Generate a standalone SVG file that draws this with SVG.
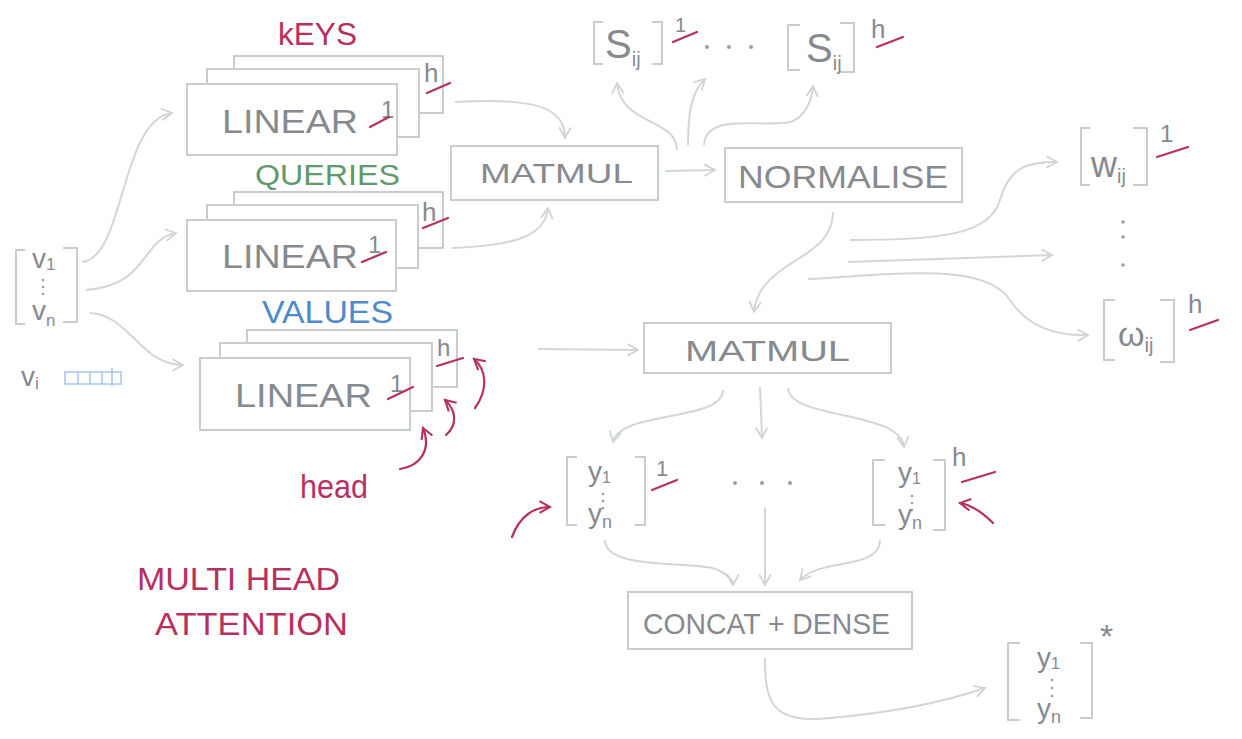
<svg xmlns="http://www.w3.org/2000/svg" width="1242" height="739" viewBox="0 0 1242 739">
<style>
.box{fill:#fff;stroke:#c9cdd0;stroke-width:2}
.br{fill:none;stroke:#c9cdd0;stroke-width:2}
.t{fill:#868a8f;font-family:"Liberation Sans",Arial,sans-serif}
.r{fill:#b8305e;font-family:"Liberation Sans",Arial,sans-serif}
.ul{fill:none;stroke:#b8305e;stroke-width:2.2;stroke-linecap:round}
.c{fill:none;stroke:#d3d6d8;stroke-width:2;marker-end:url(#arr)}
.cr{fill:none;stroke:#b8305e;stroke-width:2.2;stroke-linecap:round;marker-end:url(#arrR)}
.dot{fill:#9a9ea2}
</style>
<defs>
<marker id="arr" viewBox="0 0 12 12" refX="10" refY="6" markerWidth="14" markerHeight="14" markerUnits="userSpaceOnUse" orient="auto">
<path d="M1,1 L10,6 L1,11" fill="none" stroke="#d0d3d6" stroke-width="1.5"/>
</marker>
<marker id="arrR" viewBox="0 0 12 12" refX="10" refY="6" markerWidth="14" markerHeight="14" markerUnits="userSpaceOnUse" orient="auto">
<path d="M1,1 L10,6 L1,11" fill="none" stroke="#b8305e" stroke-width="1.8"/>
</marker>
</defs>
<rect width="1242" height="739" fill="#fff"/>

<g id="connectors">
<path class="c" d="M82,262 C125,258 120,120 172,113"/>
<path class="c" d="M86,290 C150,285 140,240 176,233"/>
<path class="c" d="M90,313 C130,315 140,365 183,365"/>
<path class="c" d="M455,102 C530,98 565,105 565,138"/>
<path class="c" d="M452,248 C520,245 545,235 548,208"/>
<path class="c" d="M665,171 L715,170"/>
<path class="c" d="M677,150 C677,118 620,125 617,83"/>
<path class="c" d="M688,145 C688,110 692,92 705,79"/>
<path class="c" d="M704,145 C706,112 760,128 790,122 C805,118 812,100 813,86"/>
<path class="c" d="M850,240 C940,240 990,235 1000,200 C1010,165 1030,162 1057,162"/>
<path class="c" d="M848,262 L1052,255"/>
<path class="c" d="M808,279 C900,274 985,262 1010,300 C1030,330 1060,336 1088,335"/>
<path class="c" d="M833,212 C833,262 760,258 754,312"/>
<path class="c" d="M538,349 L638,350"/>
<path class="c" d="M723,390 C723,422 620,410 613,442"/>
<path class="c" d="M760,387 L762,438"/>
<path class="c" d="M788,388 C790,420 900,410 904,447"/>
<path class="c" d="M605,540 C605,572 700,560 718,570 C730,576 733,582 733,585"/>
<path class="c" d="M765,508 L765,585"/>
<path class="c" d="M880,540 C880,570 820,558 800,580"/>
<path class="c" d="M765,658 C765,700 770,725 830,718 C900,712 950,700 985,688"/>
</g>

<g id="input-vectors">
<path class="br" d="M25,250 H16 V324 H25"/>
<path class="br" d="M63,248 H77 V322 H63"/>
<text class="t" x="32" y="268" font-size="28">v<tspan font-size="17" dy="2">1</tspan></text>
<circle class="dot" cx="43" cy="280" r="1.3"/><circle class="dot" cx="43" cy="287" r="1.3"/><circle class="dot" cx="43" cy="294" r="1.3"/>
<text class="t" x="32" y="320" font-size="28">v<tspan font-size="17" dy="6">n</tspan></text>
<text class="t" x="21" y="386" font-size="28">v<tspan font-size="17" dy="3">i</tspan></text>
<g fill="none" stroke="#a8c4e8" stroke-width="1.5">
<rect x="65" y="372" width="56" height="12"/>
<path d="M78,372 V384 M90,372 V384 M102,372 V384 M112,368 V386"/>
</g>
</g>

<g id="keys">
<text class="r" x="278" y="45" font-size="31" textLength="79" lengthAdjust="spacingAndGlyphs">kEYS</text>
<rect class="box" x="234" y="56" width="209" height="57"/>
<rect class="box" x="207" y="69" width="212" height="68"/>
<rect class="box" x="187" y="84" width="210" height="71"/>
<text class="t" x="222" y="133" font-size="34" textLength="136" lengthAdjust="spacingAndGlyphs">LINEAR</text>
<text class="t" x="381" y="118" font-size="24">1</text>
<path class="ul" d="M370,127 L389,117"/>
<text class="t" x="424" y="82" font-size="26">h</text>
<path class="ul" d="M427,93 L450,83"/>
</g>

<g id="queries">
<text class="r" x="255" y="185" font-size="30" textLength="145" lengthAdjust="spacingAndGlyphs" style="fill:#5e9a6c">QUERIES</text>
<rect class="box" x="234" y="192" width="209" height="56"/>
<rect class="box" x="207" y="205" width="211" height="63"/>
<rect class="box" x="187" y="220" width="209" height="71"/>
<text class="t" x="222" y="268" font-size="34" textLength="136" lengthAdjust="spacingAndGlyphs">LINEAR</text>
<text class="t" x="368" y="253" font-size="24">1</text>
<path class="ul" d="M362,262 L386,252"/>
<text class="t" x="422" y="221" font-size="26">h</text>
<path class="ul" d="M423,228 L448,218"/>
</g>

<g id="values">
<text class="r" x="262" y="323" font-size="31" textLength="131" lengthAdjust="spacingAndGlyphs" style="fill:#4d8acb">VALUES</text>
<rect class="box" x="247" y="330" width="210" height="57"/>
<rect class="box" x="220" y="343" width="212" height="68"/>
<rect class="box" x="200" y="358" width="210" height="72"/>
<text class="t" x="235" y="407" font-size="34" textLength="137" lengthAdjust="spacingAndGlyphs">LINEAR</text>
<text class="t" x="390" y="392" font-size="24">1</text>
<path class="ul" d="M388,399 L413,387"/>
<text class="t" x="437" y="356" font-size="24">h</text>
<path class="ul" d="M437,366 L463,358"/>
</g>

<g id="head-label">
<text class="r" x="300" y="498" font-size="33" textLength="68" lengthAdjust="spacingAndGlyphs">head</text>
<path class="cr" d="M400,469 C420,466 432,450 423,428"/>
<path class="cr" d="M446,435 C458,425 456,410 445,400"/>
<path class="cr" d="M475,408 C488,390 487,370 474,359"/>
</g>

<g id="matmul-1">
<rect class="box" x="451" y="146" width="207" height="54"/>
<text class="t" x="480" y="183" font-size="28" textLength="153" lengthAdjust="spacingAndGlyphs">MATMUL</text>
</g>

<g id="normalise">
<rect class="box" x="725" y="148" width="237" height="54"/>
<text class="t" x="738" y="188" font-size="31" textLength="210" lengthAdjust="spacingAndGlyphs">NORMALISE</text>
</g>

<g id="scores">
<path class="br" d="M603,22 H594 V64 H603"/>
<path class="br" d="M652,22 H662 V64 H652"/>
<text class="t" x="605" y="58" font-size="40">S<tspan font-size="20" dy="8">ij</tspan></text>
<text class="t" x="675" y="32" font-size="20">1</text>
<path class="ul" d="M673,42 L697,32"/>
<circle class="dot" cx="707" cy="47" r="2"/><circle class="dot" cx="729" cy="47" r="2"/><circle class="dot" cx="751" cy="47" r="2"/>
<path class="br" d="M800,25 H788 V70 H800"/>
<path class="br" d="M840,23 H854 V72 H840"/>
<text class="t" x="806" y="62" font-size="40">S<tspan font-size="20" dy="8">ij</tspan></text>
<text class="t" x="871" y="38" font-size="26">h</text>
<path class="ul" d="M877,47 L903,37"/>
</g>

<g id="weights">
<path class="br" d="M1090,128 H1081 V185 H1090"/>
<path class="br" d="M1133,128 H1147 V185 H1133"/>
<text class="t" x="1091" y="177" font-size="36">w<tspan font-size="20" dy="6">ij</tspan></text>
<text class="t" x="1160" y="142" font-size="24">1</text>
<path class="ul" d="M1157,157 L1188,147"/>
<circle class="dot" cx="1123" cy="222" r="1.8"/><circle class="dot" cx="1123" cy="237" r="1.8"/><circle class="dot" cx="1123" cy="265" r="1.8"/>
<path class="br" d="M1115,300 H1104 V360 H1115"/>
<path class="br" d="M1160,300 H1174 V362 H1160"/>
<text class="t" x="1118" y="346" font-size="34">ω<tspan font-size="20" dy="6">ij</tspan></text>
<text class="t" x="1188" y="313" font-size="26">h</text>
<path class="ul" d="M1190,330 L1218,320"/>
</g>

<g id="matmul-2">
<rect class="box" x="644" y="323" width="247" height="50"/>
<text class="t" x="685" y="361" font-size="29" textLength="165" lengthAdjust="spacingAndGlyphs">MATMUL</text>
</g>

<g id="outputs-heads">
<path class="br" d="M577,457 H567 V525 H577"/>
<path class="br" d="M635,457 H645 V525 H635"/>
<text class="t" x="588" y="481" font-size="28">y<tspan font-size="16" dy="2">1</tspan></text>
<circle class="dot" cx="603" cy="494" r="1.3"/><circle class="dot" cx="603" cy="501" r="1.3"/><circle class="dot" cx="603" cy="508" r="1.3"/>
<text class="t" x="588" y="523" font-size="28">y<tspan font-size="18" dy="5">n</tspan></text>
<text class="t" x="656" y="476" font-size="22">1</text>
<path class="ul" d="M652,490 L677,480"/>
<circle class="dot" cx="735" cy="483" r="2"/><circle class="dot" cx="762" cy="483" r="2"/><circle class="dot" cx="790" cy="483" r="2"/>
<path class="br" d="M885,460 H873 V525 H885"/>
<path class="br" d="M933,460 H945 V530 H933"/>
<text class="t" x="898" y="482" font-size="28">y<tspan font-size="16" dy="2">1</tspan></text>
<circle class="dot" cx="912" cy="496" r="1.3"/><circle class="dot" cx="912" cy="503" r="1.3"/><circle class="dot" cx="912" cy="510" r="1.3"/>
<text class="t" x="898" y="524" font-size="28">y<tspan font-size="18" dy="5">n</tspan></text>
<text class="t" x="952" y="466" font-size="26">h</text>
<path class="ul" d="M962,482 L995,472"/>
<path class="cr" d="M512,537 C520,515 535,507 550,507"/>
<path class="cr" d="M993,523 C985,515 972,505 960,503"/>
</g>

<g id="concat-dense">
<rect class="box" x="628" y="592" width="284" height="57"/>
<text class="t" x="643" y="634" font-size="30" textLength="247" lengthAdjust="spacingAndGlyphs">CONCAT + DENSE</text>
</g>

<g id="final-output">
<path class="br" d="M1020,643 H1008 V720 H1020"/>
<path class="br" d="M1080,643 H1092 V718 H1080"/>
<text class="t" x="1037" y="667" font-size="28">y<tspan font-size="16" dy="2">1</tspan></text>
<circle class="dot" cx="1052" cy="680" r="1.3"/><circle class="dot" cx="1052" cy="688" r="1.3"/><circle class="dot" cx="1052" cy="696" r="1.3"/>
<text class="t" x="1037" y="718" font-size="28">y<tspan font-size="18" dy="5">n</tspan></text>
<text class="t" x="1100" y="648" font-size="34">*</text>
</g>

<g id="title">
<text class="r" x="137" y="590" font-size="31" textLength="203" lengthAdjust="spacingAndGlyphs">MULTI HEAD</text>
<text class="r" x="155" y="635" font-size="31" textLength="193" lengthAdjust="spacingAndGlyphs">ATTENTION</text>
</g>
</svg>
